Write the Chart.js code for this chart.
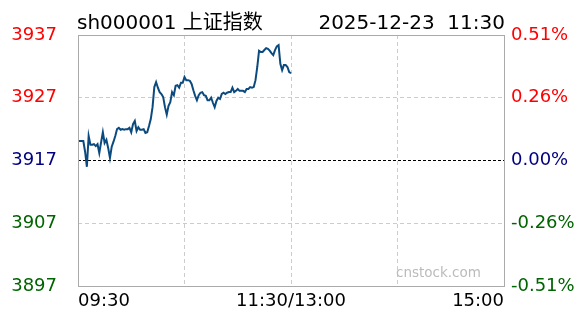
<!DOCTYPE html>
<html>
<head>
<meta charset="utf-8">
<script src="https://cdn.jsdelivr.net/npm/chart.js@4.4.1/dist/chart.umd.min.js"></script>
<style>
  html, body { margin: 0; padding: 0; background: #fff; }
  #box { width: 588px; height: 324px; }
</style>
</head>
<body>
<div id="box"><canvas id="grafico"></canvas></div>
<script>
// dados do gráfico
var titulo = "sh000001 上证指数";
var dataHora = "2025-12-23  11:30";
var fechoAnterior = 3917;
var precoTicks = [3937, 3927, 3917, 3907, 3897];
var pctTicks = ["0.51%", "0.26%", "0.00%", "-0.26%", "-0.51%"];
var coresTicks = ["#ff0000", "#ff0000", "#000080", "#006400", "#006400"];
var minutosTicks = [0, 60, 120, 180, 240];
var horasTicks = ["09:30", "", "11:30/13:00", "", "15:00"];

// preço minuto a minuto (09:30 -> 11:30)
var precos = [
    3920.1, 3920.1, 3920.1, 3920.1, 3918.4, 3916.0, 3920.9, 3919.5, 3919.5, 3919.6,
    3919.3, 3919.6, 3918.2, 3919.9, 3921.5, 3919.8, 3920.3, 3919.0, 3917.4, 3919.2,
    3920.0, 3920.9, 3922.0, 3922.2, 3921.9, 3922.0, 3921.9, 3922.0, 3922.0, 3922.2,
    3921.5, 3922.8, 3923.3, 3921.7, 3922.3, 3921.9, 3921.9, 3922.0, 3921.4, 3921.5,
    3922.5, 3923.6, 3925.5, 3928.7, 3929.5, 3928.6, 3927.9, 3927.6, 3927.1, 3925.5,
    3924.3, 3925.7, 3926.3, 3927.9, 3927.4, 3928.9, 3929.0, 3928.6, 3929.4, 3929.4,
    3930.3, 3929.8, 3929.8, 3929.7, 3929.2, 3928.2, 3927.3, 3926.6, 3927.4, 3927.8,
    3927.9, 3927.4, 3927.3, 3926.6, 3926.6, 3927.0, 3926.2, 3925.5, 3926.5, 3927.0,
    3926.8, 3927.6, 3927.8, 3927.6, 3927.8, 3927.9, 3927.9, 3928.6, 3927.9, 3928.1,
    3928.4, 3928.1, 3928.1, 3928.1, 3927.9, 3928.4, 3928.4, 3928.7, 3928.6, 3928.7,
    3929.8, 3931.9, 3934.5, 3934.3, 3934.3, 3934.6, 3934.9, 3934.8, 3934.5, 3934.1,
    3933.8, 3934.6, 3935.2, 3935.4, 3932.4, 3931.4, 3932.2, 3932.2, 3931.9, 3931.1,
    3930.9
];

var fonte = "'DejaVu Sans', 'Noto Sans CJK SC', sans-serif";

function indicePreco(v) {
    return precoTicks.indexOf(Math.round(v));
}

// Títulos, moldura e marca de água
var extras = {
    id: "extras",
    beforeDatasetsDraw: function (chart) {
        var ctx = chart.ctx;
        ctx.save();
        ctx.font = "13.5px " + fonte;
        ctx.fillStyle = "#bbbbbb";
        ctx.textAlign = "left";
        ctx.textBaseline = "middle";
        ctx.fillText("cnstock.com", 396, 273);
        ctx.restore();
    },
    afterDraw: function (chart) {
        var ctx = chart.ctx;
        var a = chart.chartArea;
        ctx.save();
        ctx.strokeStyle = "#aaaaaa";
        ctx.lineWidth = 1;
        ctx.strokeRect(Math.round(a.left) + 0.5, Math.round(a.top) + 0.5,
            Math.round(a.right - a.left), Math.round(a.bottom - a.top));
        ctx.font = "20px " + fonte;
        ctx.fillStyle = "#000";
        ctx.textBaseline = "alphabetic";
        ctx.textAlign = "left";
        ctx.fillText(titulo, 77, 29);
        ctx.textAlign = "right";
        ctx.fillText(dataHora, 505, 29);
        ctx.restore();
    }
};

const ctx = document.getElementById("grafico");
new Chart(ctx, {
    type: "line",
    data: {
        datasets: [{
                data: precos.map((p, i) => ({x: i, y: p})),
                borderColor: "#0b4a7e",
                borderWidth: 2,
                pointRadius: 0,
                tension: 0
            }, {
                data: [{x: 0, y: fechoAnterior}, {x: 240, y: fechoAnterior}],
                borderColor: "#000000",
                borderWidth: 1,
                borderDash: [3, 2],
                pointRadius: 0
            }]
    },
    options: {
        responsive: true,
        maintainAspectRatio: false,
        animation: false,
        events: [],
        layout: {padding: {top: 35, left: 0, right: 0, bottom: 0}},
        plugins: {legend: {display: false}, tooltip: {enabled: false}},
        scales: {
            x: {
                type: "linear",
                min: 0,
                max: 240,
                afterFit: function (s) { s.height = 38; },
                afterBuildTicks: function (s) {
                    s.ticks = minutosTicks.map(v => ({value: v}));
                },
                grid: {
                    drawTicks: false,
                    color: c => (c.tick && (c.tick.value === 0 || c.tick.value === 240)) ? "transparent" : "#cccccc"
                },
                border: {display: false, dash: [4, 3]},
                ticks: {
                    autoSkip: false,
                    maxRotation: 0,
                    align: "inner",
                    padding: 5,
                    color: "#000",
                    font: {family: fonte, size: 18},
                    callback: function (v) {
                        return horasTicks[minutosTicks.indexOf(v)];
                    }
                }
            },
            y: {
                position: "left",
                min: 3897,
                max: 3937,
                afterFit: function (s) { s.width = 78; },
                afterBuildTicks: function (s) {
                    s.ticks = precoTicks.slice().reverse().map(v => ({value: v}));
                },
                grid: {
                    drawTicks: false,
                    color: function (c) {
                        var v = c.tick ? c.tick.value : null;
                        if (v === 3897 || v === 3937 || v === fechoAnterior) return "transparent";
                        return "#cccccc";
                    }
                },
                border: {display: false, dash: [4, 3]},
                ticks: {
                    padding: 21,
                    color: c => coresTicks[indicePreco(c.tick.value)],
                    font: {family: fonte, size: 18},
                    callback: v => String(precoTicks[indicePreco(v)])
                }
            },
            y2: {
                position: "right",
                min: 3897,
                max: 3937,
                afterFit: function (s) { s.width = 84; },
                afterBuildTicks: function (s) {
                    s.ticks = precoTicks.slice().reverse().map(v => ({value: v}));
                },
                grid: {display: false, drawTicks: false},
                border: {display: false},
                ticks: {
                    padding: 7,
                    color: c => coresTicks[indicePreco(c.tick.value)],
                    font: {family: fonte, size: 18},
                    callback: v => pctTicks[indicePreco(v)]
                }
            }
        }
    },
    plugins: [extras]
});
</script>
</body>
</html>
